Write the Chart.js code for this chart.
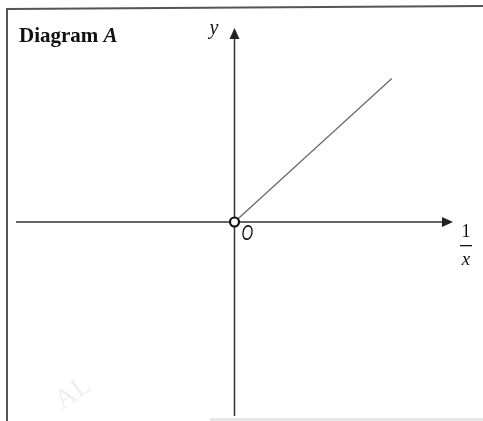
<!DOCTYPE html>
<html>
<head>
<meta charset="utf-8">
<script src="https://cdn.jsdelivr.net/npm/chart.js@4/dist/chart.umd.min.js"></script>
<style>
  html, body { margin: 0; padding: 0; background: #fff; }
  #contenedor { position: relative; width: 483px; height: 421px; }
</style>
</head>
<body>
<div id="contenedor"><canvas id="diagramaChart"></canvas></div>
<script>
// Datos del diagrama: recta que sale del origen
const valoresX = [0, 3.6];
const valoresY = [0, 3.7];
const rangoX = [-5, 5];
const rangoY = [-5, 5];
const titulo = 'Diagram ';
const tituloLetra = 'A';

let chartDiagrama;

// Marco, ejes con flechas y textos
const ejesPlugin = {
  id: 'ejes',
  beforeDraw(chart) {
    const ctx = chart.ctx;
    ctx.save();
    ctx.fillStyle = '#fff';
    ctx.fillRect(0, 0, chart.width, chart.height);
    // marco
    ctx.strokeStyle = '#555';
    ctx.lineWidth = 2;
    ctx.beginPath();
    ctx.moveTo(7, chart.height);
    ctx.lineTo(7, 9);
    ctx.lineTo(chart.width, 6);
    ctx.stroke();
    // franja gris inferior
    ctx.fillStyle = '#e6e6e6';
    ctx.fillRect(210, 418, chart.width - 210, 3);
    // marca de agua
    ctx.translate(62, 410);
    ctx.rotate(-0.6);
    ctx.fillStyle = '#eeeeee';
    ctx.font = '28px "Liberation Serif", serif';
    ctx.fillText('AL', 0, 0);
    ctx.restore();
  },
  afterDatasetsDraw(chart) {
    const ctx = chart.ctx;
    const area = chart.chartArea;
    const x0 = chart.scales.x.getPixelForValue(0);
    const y0 = chart.scales.y.getPixelForValue(0);
    ctx.save();
    ctx.strokeStyle = '#333';
    ctx.fillStyle = '#222';
    ctx.lineWidth = 1.5;
    // eje x
    ctx.beginPath();
    ctx.moveTo(area.left, y0);
    ctx.lineTo(area.right - 8, y0);
    ctx.stroke();
    ctx.beginPath();
    ctx.moveTo(area.right, y0);
    ctx.lineTo(area.right - 11, y0 - 5);
    ctx.lineTo(area.right - 11, y0 + 5);
    ctx.closePath();
    ctx.fill();
    // eje y
    ctx.beginPath();
    ctx.moveTo(x0, area.bottom);
    ctx.lineTo(x0, area.top + 8);
    ctx.stroke();
    ctx.beginPath();
    ctx.moveTo(x0, area.top);
    ctx.lineTo(x0 - 5, area.top + 11);
    ctx.lineTo(x0 + 5, area.top + 11);
    ctx.closePath();
    ctx.fill();

    // circulo del origen
    ctx.beginPath();
    ctx.arc(x0, y0, 4.5, 0, Math.PI * 2);
    ctx.fillStyle = '#fff';
    ctx.fill();
    ctx.lineWidth = 2.2;
    ctx.strokeStyle = '#111';
    ctx.stroke();

    // textos
    ctx.fillStyle = '#111';
    ctx.textBaseline = 'alphabetic';
    ctx.font = 'bold 21px "Liberation Serif", serif';
    ctx.fillText(titulo, 19, 42);
    const w = ctx.measureText(titulo).width;
    ctx.font = 'italic bold 21px "Liberation Serif", serif';
    ctx.fillText(tituloLetra, 19 + w, 42);

    ctx.font = 'italic 20px "Liberation Serif", serif';
    ctx.fillText('y', x0 - 25, 34);

    // O estrecha, como en la fuente matematica
    ctx.save();
    ctx.translate(x0 + 7, y0 + 18);
    ctx.scale(0.68, 1);
    ctx.font = 'italic 22px "Liberation Sans", sans-serif';
    ctx.fillText('O', 0, 0);
    ctx.restore();

    ctx.font = '18px "Liberation Serif", serif';
    ctx.textAlign = 'center';
    ctx.fillText('1', area.right + 13, y0 + 15);
    ctx.fillRect(area.right + 7, y0 + 23, 12, 1.3);
    ctx.font = 'italic 19px "Liberation Serif", serif';
    ctx.fillText('x', area.right + 13, y0 + 43);
    ctx.restore();
  }
};

function generarDiagrama() {
  const ctx = document.getElementById('diagramaChart').getContext('2d');
  if (chartDiagrama) {
    chartDiagrama.destroy();
  }

  chartDiagrama = new Chart(ctx, {
    type: 'scatter',
    data: {
      datasets: [{
        data: valoresX.map((x, i) => ({ x: x, y: valoresY[i] })),
        showLine: true,
        borderColor: '#666',
        borderWidth: 1.2,
        pointRadius: 0,
        pointHoverRadius: 0
      }]
    },
    options: {
      responsive: true,
      maintainAspectRatio: false,
      animation: false,
      events: [],
      layout: { padding: { left: 16, right: 30, top: 28, bottom: 5 } },
      plugins: { legend: { display: false }, tooltip: { enabled: false } },
      scales: {
        x: { type: 'linear', min: rangoX[0], max: rangoX[1], display: false },
        y: { type: 'linear', min: rangoY[0], max: rangoY[1], display: false }
      }
    },
    plugins: [ejesPlugin]
  });
}

generarDiagrama();
</script>
</body>
</html>
